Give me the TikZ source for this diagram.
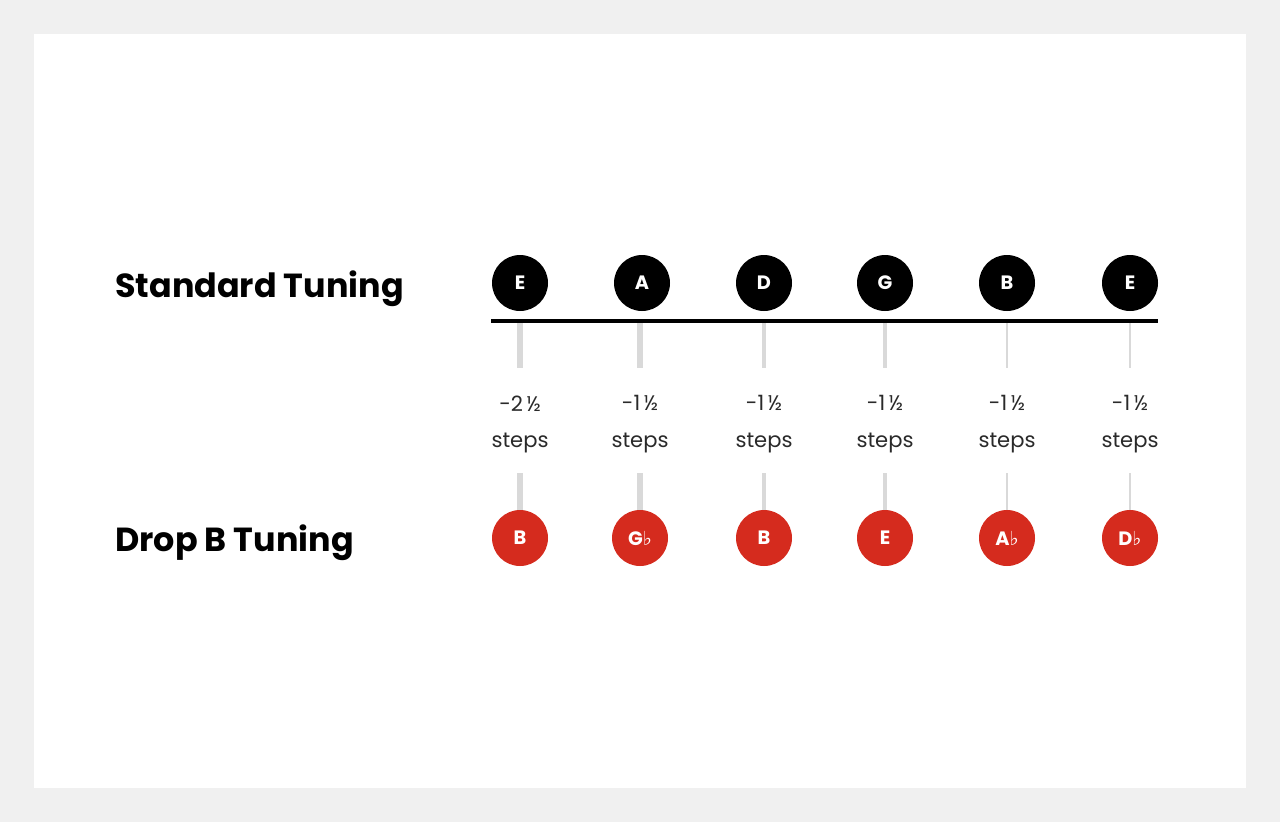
\documentclass[tikz,border=0pt]{standalone}
\usepackage{fontspec}
\setmainfont{Poppins}
\newfontfamily\flatfont{DejaVu Sans}
\usetikzlibrary{calc}
\definecolor{dropred}{HTML}{D52B1E}
\definecolor{tickgray}{HTML}{D9D9D9}
\definecolor{pagegray}{HTML}{F0F0F0}
\definecolor{steptext}{HTML}{2A2A2A}
\newcommand{\flatsign}{{\flatfont\mdseries\fontsize{11}{11}\selectfont ♭}}

\begin{document}
\begin{tikzpicture}[x=0.02cm,y=-0.02cm]
    \fill[pagegray] (0,0) rectangle (1280,822);
    \fill[white] (34,34) rectangle (1246,788);
    \useasboundingbox (0,0) rectangle (1280,822);

    \begin{scope}[every node/.style={anchor=base west,inner sep=0,
        font=\bfseries\fontsize{19}{24}\selectfont}]
      \node (stdlabel) at (115,297) {Standard Tuning};
      \node (droplabel) at (115,551) {Drop B Tuning};
    \end{scope}

    \begin{scope}[every node/.style={circle,minimum size=1.12cm,inner sep=0,
        text=white,font=\bfseries\fontsize{11}{12}\selectfont}]
      \node[fill=black] (std1) at (520,283) {E};
      \node[fill=black] (std2) at (642,283) {A};
      \node[fill=black] (std3) at (764,283) {D};
      \node[fill=black] (std4) at (885,283) {G};
      \node[fill=black] (std5) at (1007,283) {B};
      \node[fill=black] (std6) at (1130,283) {E};

      \node[fill=dropred] (drop1) at (520,538) {B};
      \node[fill=dropred] (drop2) at (640,538) {G\flatsign};
      \node[fill=dropred] (drop3) at (764,538) {B};
      \node[fill=dropred] (drop4) at (885,538) {E};
      \node[fill=dropred] (drop5) at (1007,538) {A\flatsign};
      \node[fill=dropred] (drop6) at (1130,538) {D\flatsign};
    \end{scope}

    \begin{scope}[every node/.style={align=center,inner sep=0,
        minimum height=2.1cm,text=steptext,
        font=\fontsize{12}{21}\selectfont}]
      \node (step1) at (520,424.5) {-2\,½\\steps};
      \node (step2) at (640,424.5) {-1\,½\\steps};
      \node (step3) at (764,424.5) {-1\,½\\steps};
      \node (step4) at (885,424.5) {-1\,½\\steps};
      \node (step5) at (1007,424.5) {-1\,½\\steps};
      \node (step6) at (1130,424.5) {-1\,½\\steps};
    \end{scope}

    % the string bar
    \coordinate (barL) at (491,321);
    \coordinate (barR) at (1158,321);

    \begin{scope}[tickgray]
      \draw[line width=3.4pt] (step1.north |- barL) -- ([yshift=0.08cm]step1.north);
      \draw[line width=3.1pt] (step2.north |- barL) -- ([yshift=0.08cm]step2.north);
      \draw[line width=2.6pt] (step3.north |- barL) -- ([yshift=0.08cm]step3.north);
      \draw[line width=2pt] (step4.north |- barL) -- ([yshift=0.08cm]step4.north);
      \draw[line width=1.5pt] (step5.north |- barL) -- ([yshift=0.08cm]step5.north);
      \draw[line width=1.1pt] (step6.north |- barL) -- ([yshift=0.08cm]step6.north);

      \draw[line width=3.4pt] ([yshift=0.08cm]step1.south) -- (drop1.north);
      \draw[line width=3.1pt] ([yshift=0.08cm]step2.south) -- (drop2.north);
      \draw[line width=2.6pt] ([yshift=0.08cm]step3.south) -- (drop3.north);
      \draw[line width=2pt] ([yshift=0.08cm]step4.south) -- (drop4.north);
      \draw[line width=1.5pt] ([yshift=0.08cm]step5.south) -- (drop5.north);
      \draw[line width=1.1pt] ([yshift=0.08cm]step6.south) -- (drop6.north);
    \end{scope}

    \draw[line width=2.3pt] (barL) -- (barR);
\end{tikzpicture}
\end{document}
